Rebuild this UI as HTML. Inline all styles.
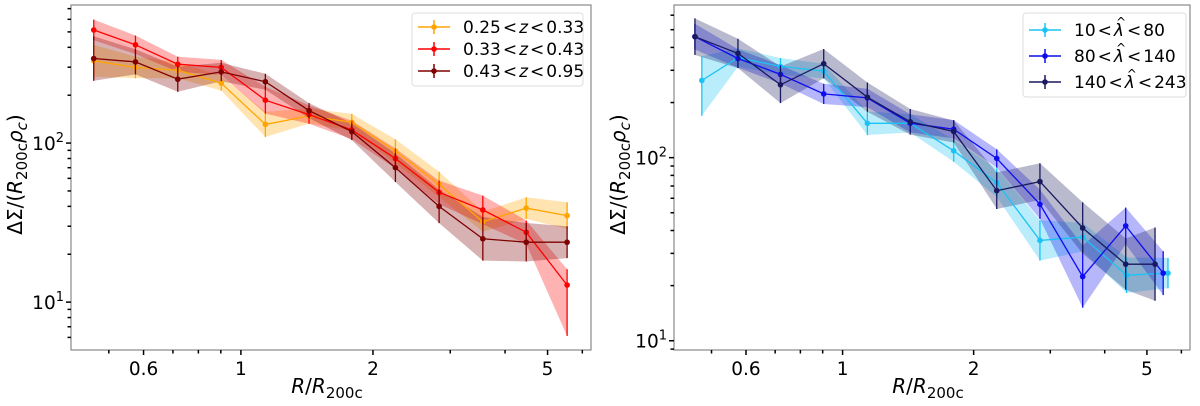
<!DOCTYPE html>
<html><head><meta charset="utf-8"><style>
body{margin:0;background:#fff;}
svg{display:block;font-family:"DejaVu Sans","Liberation Sans",sans-serif;}
</style></head><body>
<svg id="fig" width="1200" height="406" viewBox="0 0 1200 406" xmlns="http://www.w3.org/2000/svg"></svg>
<script>
// ---- data: left panel (redshift bins) ----
const zLow = ["0.25","0.33","0.43"];
const zHigh = ["0.33","0.43","0.95"];
const zColors = ["#FFA500","#FF0000","#7F0000"];
const zX = [0.462,0.575,0.718,0.902,1.137,1.43,1.79,2.25,2.83,3.56,4.47,5.54];
const zOrange = [329,299,287,238,131,148,135,89,55,32,39,35];
const zOrangeErrLo = [0.10,0.068,0.05,0.047,0.079,0.047,0.053,0.074,0.079,0.063,0.068,0.084];
const zOrangeErrHi = [0.10,0.068,0.05,0.047,0.079,0.047,0.053,0.074,0.079,0.063,0.068,0.084];
const zRed = [514,415,313,299,186,151,121,80,49,38,27.5,12.8];
const zRedErrLo = [0.065,0.058,0.047,0.047,0.084,0.058,0.058,0.063,0.074,0.09,0.074,0.32];
const zRedErrHi = [0.065,0.058,0.047,0.047,0.084,0.058,0.058,0.063,0.074,0.09,0.074,0.1];
const zDark = [340,324,252,280,243,160,118,70,40,25,23.8,23.8];
const zDarkErrLo = [0.14,0.079,0.079,0.058,0.05,0.047,0.053,0.09,0.105,0.137,0.121,0.1];
const zDarkErrHi = [0.14,0.079,0.079,0.058,0.05,0.047,0.053,0.09,0.105,0.137,0.121,0.1];
// ---- data: right panel (richness bins) ----
const lLow = ["10","80","140"];
const lHigh = ["80","140","243"];
const lColors = ["#1AC3F5","#0D0DF0","#191960"];
const lCyanX = [0.475,0.575,0.72,0.905,1.14,1.43,1.8,2.26,2.84,3.56,4.49,5.59];
const lCyan = [264,352,315,297,154,154,109,73,35.3,36.8,22.8,23.4];
const lCyanErrLo = [0.193,0.05,0.046,0.04,0.064,0.05,0.06,0.078,0.11,0.078,0.097,0.083];
const lCyanErrHi = [0.133,0.05,0.046,0.04,0.064,0.05,0.06,0.078,0.11,0.078,0.097,0.083];
const lBlueX = [0.458,0.575,0.72,0.905,1.14,1.43,1.8,2.26,2.84,3.56,4.47,5.45];
const lBlue = [458,348,285,223,212,154,143,99,55.6,22.4,42.4,23.4];
const lBlueErrLo = [0.07,0.05,0.05,0.055,0.05,0.05,0.05,0.05,0.08,0.17,0.1,0.12];
const lBlueErrHi = [0.07,0.05,0.05,0.055,0.05,0.05,0.05,0.05,0.08,0.17,0.1,0.12];
const lNavyX = [0.458,0.575,0.72,0.905,1.14,1.43,1.8,2.26,2.84,3.56,4.47,5.22];
const lNavy = [458,371,250,326,214,157,139,66,74,41.3,26.2,26.2];
const lNavyErrLo = [0.1,0.08,0.1,0.08,0.08,0.07,0.06,0.1,0.1,0.14,0.14,0.2];
const lNavyErrHi = [0.1,0.08,0.1,0.08,0.08,0.07,0.06,0.1,0.1,0.14,0.14,0.2];
// ticks
const xTickVals = [0.6,1,2,5];
const xTickLabels = ["0.6","1","2","5"];
const xMinorVals = [0.5,0.7,0.8,0.9,3,4,6];
const yMajorVals = [10,100];
const yMinorVals = [5,6,7,8,9,20,30,40,50,60,70,80,90,200,300,400,500,600,700];

const NS="http://www.w3.org/2000/svg";
const svg=document.getElementById('fig');
function mk(tag,attrs,parent){const e=document.createElementNS(NS,tag);for(const k in attrs)e.setAttribute(k,attrs[k]);(parent||svg).appendChild(e);return e;}

function panel(P){
  const g=mk('g',{});
  
  
  const lx0=Math.log10(P.xmin),lx1=Math.log10(P.xmax),ly0=Math.log10(P.ymin),ly1=Math.log10(P.ymax);
  const X=v=>P.x0+(Math.log10(v)-lx0)/(lx1-lx0)*(P.x1-P.x0);
  const Y=v=>P.y1-(Math.log10(v)-ly0)/(ly1-ly0)*(P.y1-P.y0);
  P.series.forEach((s)=>{
    const up=s.y.map((v,i)=>v*Math.pow(10,s.hi[i]));
    const lo=s.y.map((v,i)=>v/Math.pow(10,s.lo[i]));
    let d='M'+s.x.map((v,i)=>X(v).toFixed(1)+','+Y(up[i]).toFixed(1)).join('L');
    d+='L'+s.x.map((v,i)=>[X(v),Y(lo[i])]).reverse().map(p=>p[0].toFixed(1)+','+p[1].toFixed(1)).join('L')+'Z';
    const band=mk('path',{d:d,fill:s.color,'fill-opacity':0.3,stroke:'none'},g);
    
    
  });
  P.series.forEach((s)=>{
    const sg=mk('g',{},g);
    
    
    const pts=s.x.map((v,i)=>X(v).toFixed(1)+','+Y(s.y[i]).toFixed(1)).join(' ');
    mk('polyline',{points:pts,fill:'none',stroke:s.color,'stroke-width':1.3},sg);
    s.x.forEach((v,i)=>{
      const e=mk('line',{x1:X(v),x2:X(v),y1:Y(s.y[i]*Math.pow(10,s.hi[i])),y2:Y(s.y[i]/Math.pow(10,s.lo[i])),stroke:s.color,'stroke-width':1.3},sg);
      
      
      const c=mk('circle',{cx:X(v),cy:Y(s.y[i]),r:2.8,fill:s.color},sg);
      
      
    });
  });
  const fr=mk('rect',{x:P.x0,y:P.y0,width:P.x1-P.x0,height:P.y1-P.y0,fill:'none',stroke:'#888','stroke-width':1.2},g);
  
  
  xTickVals.forEach((v,i)=>{
    mk('line',{x1:X(v),x2:X(v),y1:P.y1,y2:P.y1+5,stroke:'#000','stroke-width':1.5},g);
    const t=mk('text',{x:X(v),y:P.y1+25,'text-anchor':'middle','font-size':18.5,fill:'#000'},g);
    t.textContent=xTickLabels[i];
    
    
  });
  xMinorVals.forEach(v=>{if(v>P.xmin&&v<P.xmax)mk('line',{x1:X(v),x2:X(v),y1:P.y1,y2:P.y1+3.5,stroke:'#000','stroke-width':1.5},g);});
  yMajorVals.forEach(v=>{
    mk('line',{x1:P.x0-5,x2:P.x0,y1:Y(v),y2:Y(v),stroke:'#000','stroke-width':1.5},g);
    const t=mk('text',{x:P.x0-7,y:Y(v)+7,'text-anchor':'end','font-size':18.5,fill:'#000'},g);
    
    
    const a=mk('tspan',{},t);a.textContent='10';
    const b=mk('tspan',{'font-size':13,dy:-8},t);b.textContent=String(Math.round(Math.log10(v)));
  });
  yMinorVals.forEach(v=>{if(v>P.ymin&&v<P.ymax)mk('line',{x1:P.x0-3.5,x2:P.x0,y1:Y(v),y2:Y(v),stroke:'#000','stroke-width':1.5},g);});
  const xl=mk('text',{x:(P.x0+P.x1)/2-4,y:393,'text-anchor':'middle','font-size':20,fill:'#000'},g);
  
  
  xl.innerHTML='<tspan font-style="italic">R</tspan>/<tspan font-style="italic">R</tspan><tspan font-size="15" dy="5">200c</tspan>';
  const yl=mk('text',{transform:`translate(${P.x0-49},${(P.y0+P.y1)/2-3}) rotate(-90)`,'text-anchor':'middle','font-size':20,fill:'#000'},g);
  
  
  yl.innerHTML='ΔΣ/(<tspan font-style="italic">R</tspan><tspan font-size="15" dy="5">200c</tspan><tspan dy="-5" font-style="italic">ρ</tspan><tspan font-size="15" dy="5" font-style="italic">c</tspan><tspan dy="-5">)</tspan>';
  const L=P.legend;
  const lg=mk('g',{},g);
  
  
  mk('rect',{x:L.x,y:L.y,width:L.w,height:L.h,rx:3,fill:'#fff','fill-opacity':0.85,stroke:'#ddd'},lg);
  P.series.forEach((s,i)=>{
    const yy=L.y+L.first+i*L.step;
    const e=mk('g',{},lg);
    
    
    mk('line',{x1:L.x+6,x2:L.x+38,y1:yy,y2:yy,stroke:s.color,'stroke-width':1.5},e);
    mk('line',{x1:L.x+22,x2:L.x+22,y1:yy-7,y2:yy+7,stroke:s.color,'stroke-width':1.5},e);
    mk('circle',{cx:L.x+22,cy:yy,r:2.8,fill:s.color},e);
    const t=mk('text',{x:L.x+L.tx,y:yy+6,'font-size':17,fill:'#000'},e);
    if(P.kind==='z'){
      t.innerHTML=s.lo_label+'<tspan dx="2">&lt;</tspan><tspan dx="2" font-style="italic">z</tspan><tspan dx="2">&lt;</tspan><tspan dx="2">'+s.hi_label+'</tspan>';
    } else {
      t.innerHTML=s.lo_label+'<tspan dx="2">&lt;</tspan><tspan dx="2" font-style="italic">λ</tspan><tspan font-size="12" dx="-8" dy="-10">^</tspan><tspan dx="1" dy="10">&lt;</tspan><tspan dx="2">'+s.hi_label+'</tspan>';
    }
  });
}

panel({name:'redshift-panel',kind:'z',x0:71,x1:591,y0:5,y1:350,xmin:0.41,xmax:6.28,ymin:5.0,ymax:738,
  legend:{x:412,y:13,w:171,h:73,first:14,step:22,tx:51},
  series:[
    {key:'z-low',lo_label:zLow[0],hi_label:zHigh[0],color:zColors[0],x:zX,y:zOrange,lo:zOrangeErrLo,hi:zOrangeErrHi},
    {key:'z-mid',lo_label:zLow[1],hi_label:zHigh[1],color:zColors[1],x:zX,y:zRed,lo:zRedErrLo,hi:zRedErrHi},
    {key:'z-high',lo_label:zLow[2],hi_label:zHigh[2],color:zColors[2],x:zX,y:zDark,lo:zDarkErrLo,hi:zDarkErrHi}
  ]});
panel({name:'richness-panel',kind:'l',x0:674,x1:1190,y0:5,y1:350,xmin:0.41,xmax:6.28,ymin:8.9,ymax:682,
  legend:{x:1023,y:13,w:163,h:84,first:17,step:26,tx:51},
  series:[
    {key:'lambda-low',lo_label:lLow[0],hi_label:lHigh[0],color:lColors[0],x:lCyanX,y:lCyan,lo:lCyanErrLo,hi:lCyanErrHi},
    {key:'lambda-mid',lo_label:lLow[1],hi_label:lHigh[1],color:lColors[1],x:lBlueX,y:lBlue,lo:lBlueErrLo,hi:lBlueErrHi},
    {key:'lambda-high',lo_label:lLow[2],hi_label:lHigh[2],color:lColors[2],x:lNavyX,y:lNavy,lo:lNavyErrLo,hi:lNavyErrHi}
  ]});
</script>
</body></html>
